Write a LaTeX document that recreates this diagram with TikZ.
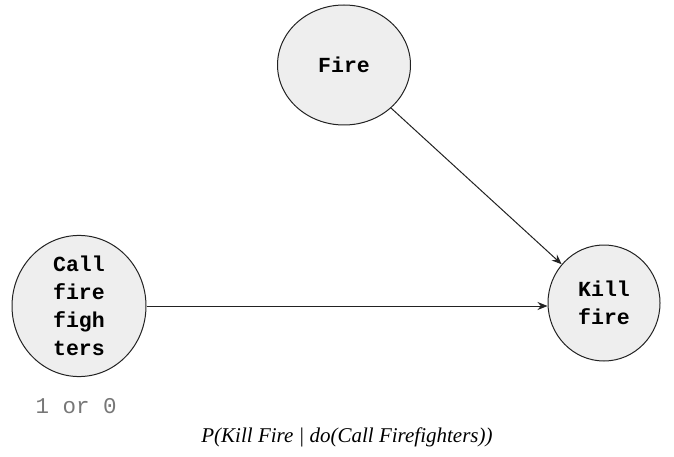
\documentclass[tikz,border=0pt]{standalone}
\usepackage{fontspec}
\setmainfont{Liberation Serif}
\setmonofont{Liberation Mono}
\usetikzlibrary{arrows.meta,shapes.geometric}
\definecolor{nodefill}{HTML}{EEEEEE}
\definecolor{edgecol}{HTML}{222222}
\definecolor{notegray}{HTML}{777777}
\begin{document}
\begin{tikzpicture}[x=1pt,y=-1pt,
  varnode/.style={ellipse, draw=edgecol, line width=1pt, fill=nodefill,
    font=\ttfamily\bfseries\fontsize{21.5}{28}\selectfont, align=center, inner sep=0pt},
  link/.style={draw=edgecol, line width=1pt, -{Stealth[length=10pt,width=8pt]}}]
\useasboundingbox (0,0) rectangle (674,457);
% causal variables
\node[varnode, minimum width=133pt, minimum height=120pt] (fire) at (344,65) {Fire};
\node[varnode, minimum width=134pt, minimum height=108pt] (call) at (79,306) {Call\\fire\\figh\\ters};
\node[varnode, minimum width=112pt, minimum height=116pt] (kill) at (604,303) {Kill\\fire};
% edges
\draw[link] (fire) -- (kill);
\draw[link] (call) -- (call -| kill.west);
% annotations
\node[text=notegray, font=\ttfamily\fontsize{22.5}{24}\selectfont, anchor=west] (val) at (32,406) {1 or 0};
\node[font=\itshape\fontsize{21}{24}\selectfont] (query) at (347,437) {P(Kill Fire | do(Call Firefighters))};
\end{tikzpicture}
\end{document}
